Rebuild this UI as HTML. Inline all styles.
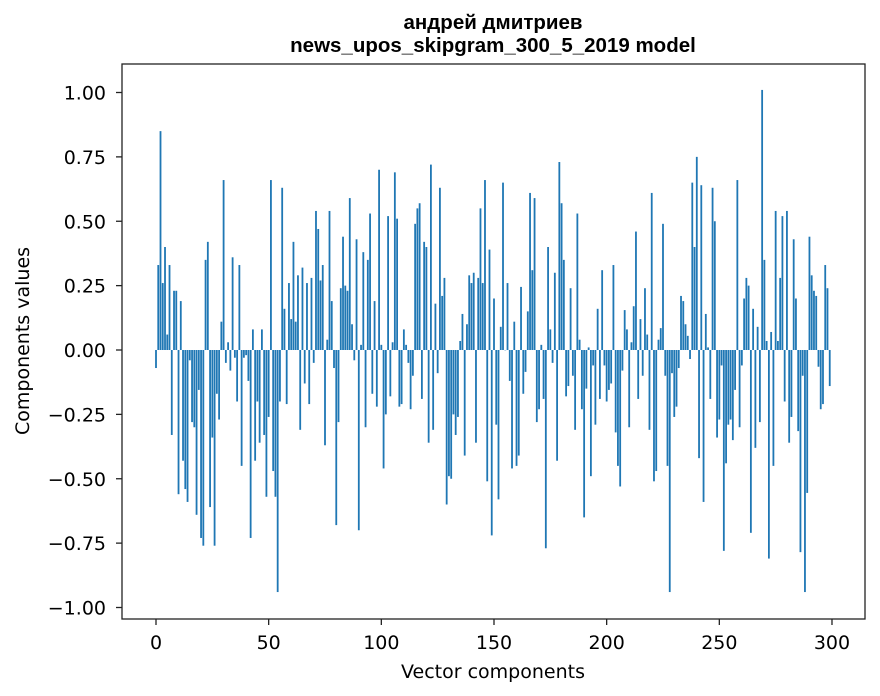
<!DOCTYPE html>
<html><head><meta charset="utf-8"><style>
body{margin:0;background:#fff;}
svg{display:block;font-family:"DejaVu Sans","Liberation Sans",sans-serif;}
</style></head><body>
<svg id="chart" width="880" height="696">
<rect width="880" height="696" fill="#fff"/>
<text x="493" y="29" text-anchor="middle" font-size="20.5" font-weight="bold" font-family="Liberation Sans, sans-serif">андрей дмитриев</text>
<text x="493" y="52" text-anchor="middle" font-size="20.5" font-weight="bold" font-family="Liberation Sans, sans-serif">news_upos_skipgram_300_5_2019 model</text>
<g id="bars"></g>
<g id="xaxis"></g>
<g id="yaxis"></g>
<rect x="122" y="64" width="743" height="555" fill="none" stroke="#222" stroke-width="1.3"/>
<text x="493" y="678" text-anchor="middle" font-size="19">Vector components</text>
<text transform="translate(29,341) rotate(-90)" text-anchor="middle" font-size="19">Components values</text>
</svg>
<script>
const values = [-0.07,0.33,0.85,0.26,0.40,0.06,0.33,-0.33,0.23,0.23,-0.56,0.19,-0.43,-0.54,-0.59,-0.04,-0.28,-0.30,-0.64,-0.155,-0.73,-0.76,0.35,0.42,-0.61,-0.34,-0.76,-0.17,-0.27,0.11,0.66,
-0.05,0.03,-0.08,0.36,-0.03,-0.20,0.33,-0.45,-0.03,-0.02,-0.12,-0.73,0.08,-0.43,-0.20,-0.36,0.08,-0.33,-0.57,-0.26,
0.66,-0.47,-0.57,-0.94,-0.20,0.63,0.16,-0.21,0.26,0.12,0.42,0.11,0.29,-0.31,0.32,-0.13,0.26,-0.21,0.28,-0.05,0.54,0.47,0.27,0.33,-0.37,0.04,0.54,0.19,-0.07,-0.68,-0.28,0.24,0.44,0.25,0.23,0.59,0.10,-0.04,0.43,-0.70,0.02,0.38,-0.30,0.35,0.53,-0.17,0.19,-0.22,0.70,0.02,-0.46,
-0.25,0.52,-0.18,0.03,0.69,0.51,-0.22,-0.21,0.08,0.02,-0.05,-0.23,-0.10,0.49,0.55,0.57,-0.19,0.42,0.40,-0.36,0.72,-0.31,0.18,-0.09,0.63,0.21,0.28,-0.60,-0.49,-0.50,-0.25,-0.33,-0.26,0.035,0.14,-0.41,0.10,0.29,0.26,0.30,-0.36,0.28,0.55,0.26,0.66,-0.51,0.39,-0.72,0.20,-0.29,
-0.58,0.09,0.65,0.00,0.26,-0.12,-0.46,0.11,-0.45,-0.41,0.245,-0.17,-0.085,0.15,0.61,0.31,0.59,-0.28,-0.23,0.02,-0.19,-0.77,0.40,0.08,-0.05,0.30,-0.43,0.73,0.57,0.35,-0.18,-0.14,0.24,-0.10,-0.31,0.53,0.04,-0.23,-0.65,-0.15,0.01,-0.49,-0.06,-0.29,0.16,-0.19,0.31,-0.06,-0.20,-0.155,
-0.13,0.33,-0.32,-0.45,-0.53,-0.08,0.155,0.08,-0.30,0.03,0.17,0.46,-0.19,0.12,-0.10,0.24,0.06,-0.31,0.61,-0.51,-0.47,0.04,0.085,0.49,-0.10,-0.45,-0.94,-0.09,-0.26,-0.22,-0.07,0.21,0.19,0.10,0.055,-0.035,0.65,0.40,0.75,-0.42,0.64,-0.59,0.14,0.01,-0.19,0.63,0.50,-0.34,-0.27,-0.06,
-0.78,-0.44,-0.29,-0.27,-0.35,-0.155,0.66,-0.30,-0.06,0.20,0.28,0.25,-0.71,0.16,-0.38,0.09,-0.28,1.01,0.35,0.035,-0.81,0.07,-0.45,0.54,0.035,0.28,0.52,-0.20,0.54,-0.36,-0.26,0.43,0.20,-0.315,-0.785,-0.10,-0.94,-0.555,0.44,0.29,0.23,0.21,-0.065,-0.23,-0.21,0.33,0.24,-0.14];
const xTicks = [0,50,100,150,200,250,300];
const yTicks = [-1.00,-0.75,-0.50,-0.25,0.00,0.25,0.50,0.75,1.00];

const NS = "http://www.w3.org/2000/svg";
const xScale = v => 156 + v * 2.2533;
const yScale = v => 350 - v * 257.5;
const bw = 0.8 * 2.2533;

const bars = document.getElementById('bars');
values.forEach((v, i) => {
  const r = document.createElementNS(NS, 'rect');
  const y0 = yScale(0), y1 = yScale(v);
  r.setAttribute('x', xScale(i) - bw / 2);
  r.setAttribute('y', Math.min(y0, y1));
  r.setAttribute('width', bw);
  r.setAttribute('height', Math.max(Math.abs(y1 - y0), 0.3));
  r.setAttribute('fill', '#1f77b4');
  
  
  bars.appendChild(r);
});

const xa = document.getElementById('xaxis');
xTicks.forEach(t => {
  const x = xScale(t);
  const l = document.createElementNS(NS, 'line');
  l.setAttribute('x1', x); l.setAttribute('x2', x);
  l.setAttribute('y1', 619); l.setAttribute('y2', 625);
  l.setAttribute('stroke', '#222');
  l.setAttribute('stroke-width', '1.3');
  
  
  xa.appendChild(l);
  const tx = document.createElementNS(NS, 'text');
  tx.setAttribute('x', x); tx.setAttribute('y', 649);
  tx.setAttribute('text-anchor', 'middle');
  tx.setAttribute('font-size', '19');
  tx.textContent = t;
  
  
  xa.appendChild(tx);
});

const ya = document.getElementById('yaxis');
yTicks.forEach(t => {
  const y = yScale(t);
  const l = document.createElementNS(NS, 'line');
  l.setAttribute('x1', 116); l.setAttribute('x2', 122);
  l.setAttribute('y1', y); l.setAttribute('y2', y);
  l.setAttribute('stroke', '#222');
  l.setAttribute('stroke-width', '1.3');
  
  
  ya.appendChild(l);
  const tx = document.createElementNS(NS, 'text');
  tx.setAttribute('x', 106); tx.setAttribute('y', y + 7);
  tx.setAttribute('text-anchor', 'end');
  tx.setAttribute('font-size', '19');
  tx.textContent = (t < 0 ? '\u2212' : '') + Math.abs(t).toFixed(2);
  
  
  ya.appendChild(tx);
});
</script>
</body></html>
